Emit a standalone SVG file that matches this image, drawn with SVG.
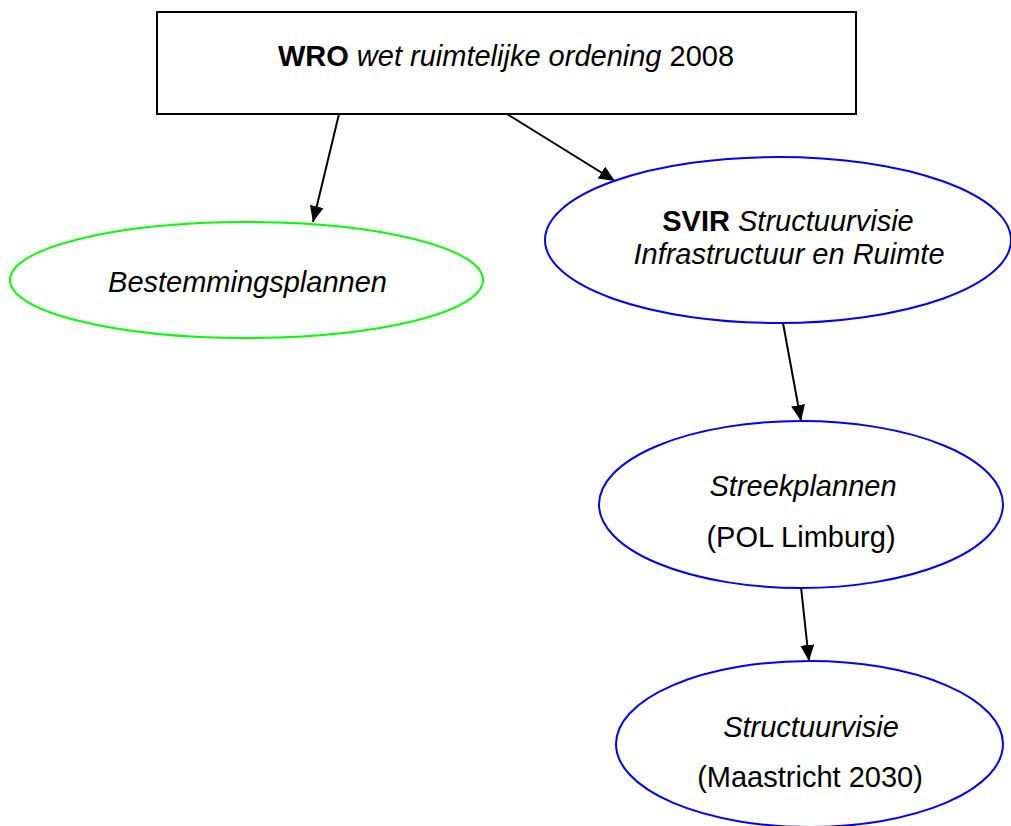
<svg xmlns="http://www.w3.org/2000/svg" width="1011" height="826" viewBox="0 0 1011 826">
  <style>
    .lbl { font-family: "Liberation Sans", Arial, sans-serif; font-size: 29px; fill: #000; text-anchor: middle; }
    .it { font-style: italic; }
    .b { font-weight: bold; }
    .box { fill: #fff; stroke: #000; stroke-width: 2; }
    .green { fill: #fff; stroke: #00ff00; stroke-width: 2; }
    .blue { fill: #fff; stroke: #0000ff; stroke-width: 2; }
    .edge { stroke: #000; stroke-width: 2; fill: none; marker-end: url(#arrow); }
  </style>
  <defs>
    <marker id="arrow" markerUnits="userSpaceOnUse" markerWidth="17" markerHeight="15" refX="16" refY="7" orient="auto">
      <path d="M0,0 L16,7 L0,14 z" fill="#000"/>
    </marker>
  </defs>
  <rect width="1011" height="826" fill="#fff"/>

  <g id="connectors">
    <line class="edge" x1="339" y1="114" x2="313" y2="222"/>
    <line class="edge" x1="507" y1="114" x2="615" y2="181"/>
    <line class="edge" x1="783" y1="323" x2="801" y2="421"/>
    <line class="edge" x1="801" y1="587" x2="809" y2="661"/>
  </g>

  <g id="wro">
    <rect class="box" x="157" y="12" width="699" height="102"/>
    <text class="lbl" x="506" y="66"><tspan class="b">WRO</tspan> <tspan class="it">wet ruimtelijke ordening</tspan> 2008</text>
  </g>

  <g id="bestemmingsplannen">
    <ellipse class="green" cx="246.5" cy="280" rx="236.5" ry="58"/>
    <text class="lbl it" x="247.5" y="292">Bestemmingsplannen</text>
  </g>

  <g id="svir">
    <ellipse class="blue" cx="778" cy="240" rx="233" ry="83"/>
    <text class="lbl" x="788" y="231"><tspan class="b">SVIR</tspan> <tspan class="it">Structuurvisie</tspan></text>
    <text class="lbl it" x="789" y="264">Infrastructuur en Ruimte</text>
  </g>

  <g id="streekplannen">
    <ellipse class="blue" cx="801" cy="504.5" rx="202" ry="83.5"/>
    <text class="lbl it" x="803" y="496">Streekplannen</text>
    <text class="lbl" x="801" y="547">(POL Limburg)</text>
  </g>

  <g id="structuurvisie">
    <ellipse class="blue" cx="809.5" cy="744" rx="193.5" ry="83"/>
    <text class="lbl it" x="811" y="737">Structuurvisie</text>
    <text class="lbl" x="810" y="787">(Maastricht 2030)</text>
  </g>
</svg>
